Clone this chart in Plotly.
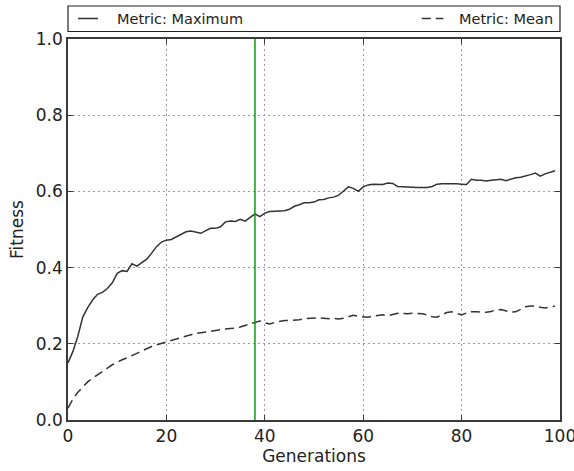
import plotly.graph_objects as go

generations = list(range(100))

max_fitness = [
    0.150, 0.180, 0.220, 0.270, 0.295, 0.315, 0.330, 0.335, 0.345, 0.360,
    0.385, 0.392, 0.390, 0.410, 0.404, 0.412, 0.422, 0.438, 0.455, 0.467,
    0.472, 0.474, 0.480, 0.488, 0.494, 0.496, 0.492, 0.490, 0.497, 0.503,
    0.503, 0.507, 0.520, 0.522, 0.521, 0.527, 0.522, 0.532, 0.541, 0.534,
    0.543, 0.547, 0.548, 0.548, 0.549, 0.553, 0.561, 0.565, 0.570, 0.570,
    0.572, 0.578, 0.579, 0.583, 0.585, 0.590, 0.600, 0.612, 0.608, 0.600,
    0.612, 0.617, 0.619, 0.619, 0.618, 0.622, 0.621, 0.613, 0.612, 0.611,
    0.610, 0.610, 0.610, 0.610, 0.613, 0.619, 0.620, 0.620, 0.621, 0.620,
    0.619, 0.618, 0.632, 0.629, 0.629, 0.627, 0.629, 0.630, 0.632, 0.628,
    0.632, 0.636, 0.637, 0.640, 0.644, 0.648, 0.640, 0.646, 0.650, 0.654,
]

mean_fitness = [
    0.031, 0.055, 0.073, 0.088, 0.100, 0.110, 0.118, 0.128, 0.136, 0.145,
    0.152, 0.158, 0.163, 0.170, 0.175, 0.181, 0.188, 0.193, 0.197, 0.201,
    0.206, 0.209, 0.214, 0.218, 0.221, 0.224, 0.227, 0.229, 0.231, 0.234,
    0.236, 0.237, 0.239, 0.240, 0.241, 0.244, 0.248, 0.252, 0.257, 0.260,
    0.255, 0.252, 0.256, 0.259, 0.261, 0.261, 0.262, 0.263, 0.266, 0.267,
    0.267, 0.268, 0.267, 0.266, 0.267, 0.265, 0.267, 0.271, 0.275, 0.272,
    0.271, 0.270, 0.273, 0.275, 0.276, 0.274, 0.277, 0.280, 0.280, 0.279,
    0.280, 0.280, 0.279, 0.276, 0.271, 0.270, 0.276, 0.282, 0.284, 0.280,
    0.276, 0.281, 0.284, 0.284, 0.283, 0.283, 0.285, 0.289, 0.290, 0.287,
    0.283, 0.284, 0.290, 0.297, 0.299, 0.299, 0.296, 0.294, 0.296, 0.299,
]

best_generation = 38

x_ticks = [0, 20, 40, 60, 80, 100]
y_ticks = [0.0, 0.2, 0.4, 0.6, 0.8, 1.0]
y_tick_text = ["0.0", "0.2", "0.4", "0.6", "0.8", "1.0"]

series_names = ["Metric: Maximum", "Metric: Mean"]

FONT = "DejaVu Sans"
TEXT_COLOR = "#222222"
LINE_COLOR = "#333333"
FRAME_COLOR = "#3a3a3a"
DASH = "9px,5px"

fig = go.Figure()

fig.add_trace(go.Scatter(
    x=generations, y=max_fitness, mode="lines", name=series_names[0],
    line=dict(color=LINE_COLOR, width=1.5),
))
fig.add_trace(go.Scatter(
    x=generations, y=mean_fitness, mode="lines", name=series_names[1],
    line=dict(color=LINE_COLOR, width=1.5, dash=DASH),
))

# vertical marker at the best generation
fig.add_shape(type="line", xref="x", yref="paper",
              x0=best_generation, x1=best_generation, y0=0, y1=1,
              line=dict(color="#119a11", width=1.5))

# legend box drawn above the axes
LEG_Y = 1.0538
fig.add_shape(type="rect", xref="paper", yref="paper",
              x0=0, x1=1, y0=1.0197, y1=1.0866,
              line=dict(color="#222222", width=1.2), fillcolor="white")
fig.add_shape(type="line", xref="paper", yref="paper",
              x0=0.0203, x1=0.0610, y0=LEG_Y, y1=LEG_Y,
              line=dict(color=LINE_COLOR, width=1.5))
fig.add_shape(type="line", xref="paper", yref="paper",
              x0=0.719, x1=0.763, y0=LEG_Y, y1=LEG_Y,
              line=dict(color=LINE_COLOR, width=1.5, dash=DASH))
fig.add_annotation(xref="paper", yref="paper", x=0.0955, y=LEG_Y,
                   text=series_names[0], showarrow=False, xanchor="left",
                   yanchor="middle", font=dict(family=FONT, size=14.5, color=TEXT_COLOR))
fig.add_annotation(xref="paper", yref="paper", x=0.9898, y=LEG_Y,
                   text=series_names[1], showarrow=False, xanchor="right",
                   yanchor="middle", font=dict(family=FONT, size=14.5, color=TEXT_COLOR))

axis_common = dict(
    showline=True, linecolor=FRAME_COLOR, linewidth=1.6, mirror="ticks",
    ticks="inside", ticklen=5, tickcolor=FRAME_COLOR, tickwidth=1,
    showgrid=True, gridcolor="#9a9a9a", griddash="2px,3px", gridwidth=1,
    zeroline=False, automargin=False, ticklabeloverflow="allow",
    tickfont=dict(family=FONT, size=17, color=TEXT_COLOR),
)

fig.update_xaxes(range=[0, 100], tickvals=x_ticks,
                 title=dict(text="Generations", font=dict(family=FONT, size=17, color=TEXT_COLOR), standoff=4),
                 **axis_common)
fig.update_yaxes(range=[0, 1], tickvals=y_ticks, ticktext=y_tick_text,
                 title=dict(text="Fitness", font=dict(family=FONT, size=17, color=TEXT_COLOR), standoff=8),
                 **axis_common)

fig.update_layout(
    width=574, height=471,
    margin=dict(l=68, r=14, t=39, b=51),
    paper_bgcolor="white", plot_bgcolor="white",
    showlegend=False,
    font=dict(family=FONT),
)

fig.write_html("out.html")
